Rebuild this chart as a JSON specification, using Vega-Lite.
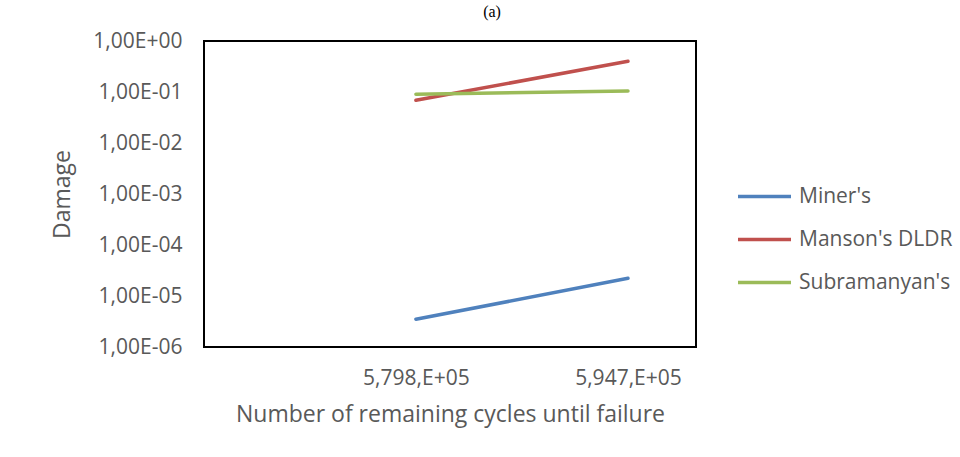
{
  "$schema": "https://vega.github.io/schema/vega-lite/v6.json",
  "width": 492,
  "height": 306,
  "autosize": {"type": "none"},
  "padding": {"left": 204, "top": 41, "right": 264, "bottom": 110},
  "background": "white",
  "title": {"text": "(a)", "font": "Liberation Serif", "fontSize": 16, "fontWeight": "normal", "color": "black", "anchor": "middle", "dx": 42, "offset": 10},
  "data": {
    "values": [
      {"cycles": "5,798,E+05", "method": "Miner's", "damage": 3.5e-6},
      {"cycles": "5,947,E+05", "method": "Miner's", "damage": 2.22e-5},
      {"cycles": "5,798,E+05", "method": "Manson's DLDR", "damage": 0.0687},
      {"cycles": "5,947,E+05", "method": "Manson's DLDR", "damage": 0.40},
      {"cycles": "5,798,E+05", "method": "Subramanyan's", "damage": 0.090},
      {"cycles": "5,947,E+05", "method": "Subramanyan's", "damage": 0.105}
    ]
  },
  "mark": {"type": "line", "strokeWidth": 3.5, "strokeCap": "round"},
  "encoding": {
    "x": {
      "field": "cycles", "type": "ordinal", "sort": null,
      "scale": {"type": "point", "padding": 0.66, "align": 0.757},
      "axis": {
        "title": "Number of remaining cycles until failure",
        "labelAngle": 0, "ticks": false, "domain": false, "grid": false,
        "labelPadding": 20, "labelFontSize": 21, "labelColor": "#595959", "labelFont": "Open Sans",
        "titleFontSize": 23, "titleColor": "#595959", "titleFont": "Open Sans", "titleFontWeight": "normal",
        "titlePadding": 15
      }
    },
    "y": {
      "field": "damage", "type": "quantitative",
      "scale": {"type": "log", "domain": [1e-6, 1]},
      "axis": {
        "title": "Damage",
        "values": [1e-6, 1e-5, 1e-4, 1e-3, 1e-2, 1e-1, 1],
        "labelExpr": "datum.value >= 1 ? '1,00E+00' : '1,00E-0' + round(-log(datum.value)/LN10)",
        "ticks": false, "domain": false, "grid": false,
        "labelPadding": 22, "labelFontSize": 21, "labelColor": "#595959", "labelFont": "Open Sans",
        "titleFontSize": 23, "titleColor": "#595959", "titleFont": "Open Sans", "titleFontWeight": "normal",
        "titlePadding": 18
      }
    },
    "color": {
      "field": "method", "type": "nominal",
      "sort": ["Miner's", "Manson's DLDR", "Subramanyan's"],
      "scale": {"domain": ["Miner's", "Manson's DLDR", "Subramanyan's"], "range": ["#4F81BD", "#C0504D", "#9BBB59"]},
      "legend": {
        "title": null, "orient": "none", "legendX": 532, "legendY": 127,
        "symbolType": "stroke", "symbolSize": 2809, "symbolStrokeWidth": 3.5,
        "labelFontSize": 21, "labelColor": "#595959", "labelFont": "Open Sans", "labelOffset": 6,
        "rowPadding": 4, "labelLimit": 300
      }
    }
  },
  "config": {
    "view": {"stroke": "black", "strokeWidth": 2}
  }
}
